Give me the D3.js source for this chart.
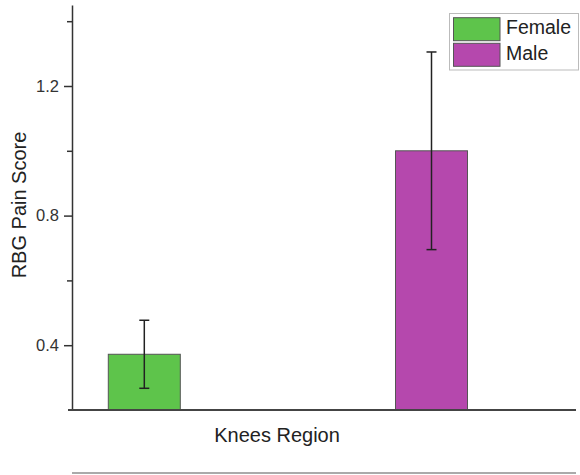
<!DOCTYPE html>
<html><head><meta charset="utf-8">
<script src="https://cdn.jsdelivr.net/npm/d3@7"></script>
<style>
html,body{margin:0;padding:0;background:#fff;}
svg{display:block;font-family:"Liberation Sans",Arial,sans-serif;}
</style></head>
<body>
<svg id="chart" width="580" height="475"></svg>
<script>
const category = "Knees Region";
const groups = ["Female", "Male"];
const means = [0.372, 1.0];
const errors = [0.105, 0.305];
const colors = ["#5ec44b", "#b548ad"];
const majorTicks = [0.4, 0.8, 1.2];
const minorTicks = [0.6, 1.0, 1.4];
const yLabel = "RBG Pain Score";

const svg = d3.select("#chart");
const axisColor = "#333";
const y = d3.scaleLinear().domain([0.2, 1.45]).range([410, 5]);
const x = d3.scalePoint().domain(groups).range([144.3, 431.5]);
const barW = 72;
const xLeft = 72, xRight = 576;

// bars
groups.forEach((g, i) => {
  svg.append("rect")
    .attr("x", x(g) - barW / 2)
    .attr("y", y(means[i]))
    .attr("width", barW)
    .attr("height", y(0.2) - y(means[i]))
    .attr("fill", colors[i])
    .attr("stroke", "#555")
    .attr("stroke-width", 1);
});

// error bars
groups.forEach((g, i) => {
  const cx = x(g);
  const top = y(means[i] + errors[i]), bot = y(means[i] - errors[i]);
  const eg = svg.append("g").attr("stroke", "#222").attr("stroke-width", 1.5);
  eg.append("line").attr("x1", cx).attr("x2", cx).attr("y1", top).attr("y2", bot);
  eg.append("line").attr("x1", cx - 5).attr("x2", cx + 5).attr("y1", top).attr("y2", top);
  eg.append("line").attr("x1", cx - 5).attr("x2", cx + 5).attr("y1", bot).attr("y2", bot);
});

// y axis
const yAxis = d3.axisLeft(y).tickValues(majorTicks).tickFormat(d3.format(".1f")).tickSize(8).tickSizeOuter(0).tickPadding(5);
const ya = svg.append("g").attr("transform", `translate(${xLeft},0)`).call(yAxis);
ya.select(".domain").attr("stroke", axisColor).attr("stroke-width", 1.5);
ya.selectAll(".tick line").attr("stroke", axisColor).attr("stroke-width", 1.5);
ya.selectAll(".tick text").attr("fill", "#333").attr("font-size", 16.5).attr("font-family", "Liberation Sans, Arial, sans-serif");
const yMinor = d3.axisLeft(y).tickValues(minorTicks).tickSize(5).tickFormat("");
const ym = svg.append("g").attr("transform", `translate(${xLeft},0)`).call(yMinor);
ym.select(".domain").remove();
ym.selectAll(".tick line").attr("stroke", axisColor).attr("stroke-width", 1.5);

// x axis line
svg.append("line").attr("x1", 68).attr("x2", xRight).attr("y1", y(0.2)).attr("y2", y(0.2))
  .attr("stroke", "#444").attr("stroke-width", 2);

// x category label
svg.append("text").attr("x", 277).attr("y", 442).attr("text-anchor", "middle")
  .attr("font-size", 20).attr("fill", "#222").text(category);

// y title
svg.append("text").attr("transform", "translate(26,205) rotate(-90)").attr("text-anchor", "middle")
  .attr("font-size", 20).attr("fill", "#222").text(yLabel);

// bottom gray line
svg.append("line").attr("x1", xLeft).attr("x2", xRight).attr("y1", 473).attr("y2", 473)
  .attr("stroke", "#aaa").attr("stroke-width", 2);

// legend
const lg = svg.append("g");
lg.append("rect").attr("x", 449.5).attr("y", 13.5).attr("width", 129).attr("height", 56.5)
  .attr("fill", "#fff").attr("stroke", "#bbb").attr("stroke-width", 1);
groups.forEach((g, i) => {
  const yy = 17.7 + i * 25.6;
  lg.append("rect").attr("x", 453.5).attr("y", yy).attr("width", 46.5).attr("height", 23)
    .attr("fill", colors[i]).attr("stroke", "#555").attr("stroke-width", 1);
  lg.append("text").attr("x", 506).attr("y", yy + 16.5).attr("font-size", 19.5).attr("fill", "#222").text(g);
});
</script>
</body></html>
